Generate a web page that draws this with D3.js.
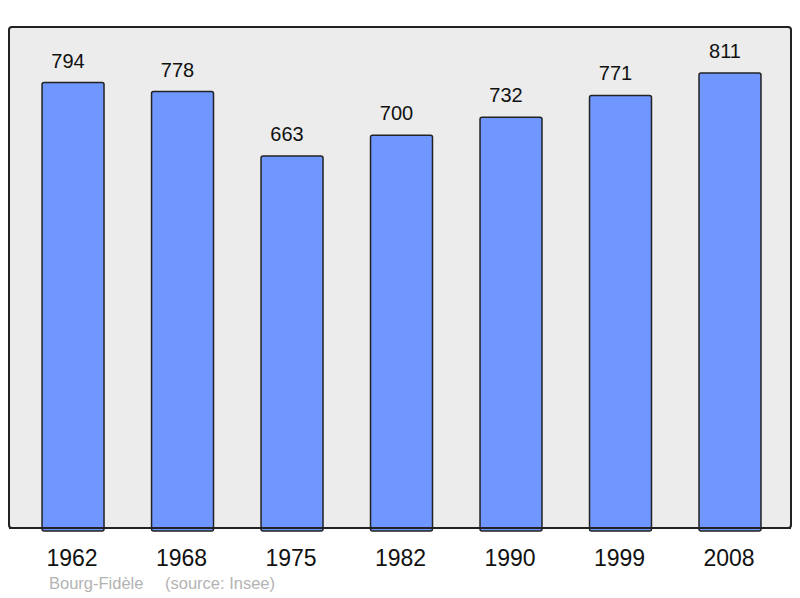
<!DOCTYPE html>
<meta charset="utf-8">
<style>
body { margin: 0; background: #fff; }
text { font-family: "Liberation Sans", Arial, sans-serif; }
</style>
<svg width="800" height="598"></svg>
<script src="https://d3js.org/d3.v7.min.js"></script>
<script>

var years = ["1962", "1968", "1975", "1982", "1990", "1999", "2008"];
var population = [794, 778, 663, 700, 732, 771, 811];
var commune = "Bourg-Fidèle";
var source = "(source: Insee)";

var svg = d3.select("svg"),
    frame = {left: 9, top: 27, right: 791, bottom: 528};

svg.append("rect")
    .attr("x", frame.left)
    .attr("y", frame.top)
    .attr("width", frame.right - frame.left)
    .attr("height", frame.bottom - frame.top)
    .attr("rx", 3)
    .attr("fill", "#ececec")
    .attr("stroke", "#222")
    .attr("stroke-width", 2);

var x = d3.scaleBand()
    .domain(years)
    .range([frame.left, frame.right])
    .paddingInner(0.434)
    .paddingOuter(0.288)
    .align(0.524);

var y = d3.scaleLinear()
    .domain([0, 893])
    .range([frame.bottom, frame.top]);

var data = years.map(function(d, i) { return {year: d, value: population[i]}; });

svg.selectAll(".bar")
    .data(data)
  .enter().append("rect")
    .attr("class", "bar")
    .attr("x", function(d) { return x(d.year); })
    .attr("y", function(d) { return y(d.value); })
    .attr("width", x.bandwidth())
    .attr("height", function(d) { return frame.bottom - y(d.value) + 3; })
    .attr("rx", 2)
    .attr("fill", "#7097ff")
    .attr("stroke", "#222")
    .attr("stroke-width", 1.5);

// redraw the frame bottom edge over the bar feet
svg.append("line")
    .attr("x1", frame.left).attr("x2", frame.right)
    .attr("y1", frame.bottom).attr("y2", frame.bottom)
    .attr("stroke", "#222").attr("stroke-width", 2);

// value labels sit a little left of the bar centre in the original
svg.selectAll(".value")
    .data(data)
  .enter().append("text")
    .attr("class", "value")
    .attr("x", function(d) { return x(d.year) + x.bandwidth() / 2 - 5; })
    .attr("y", function(d) { return y(d.value) - 15; })
    .attr("text-anchor", "middle")
    .attr("font-size", 20)
    .attr("fill", "#111")
    .text(function(d) { return d.value; });

svg.selectAll(".year")
    .data(years)
  .enter().append("text")
    .attr("class", "year")
    .attr("x", function(d) { return x(d) + x.bandwidth() / 2 - 1; })
    .attr("y", 566)
    .attr("text-anchor", "middle")
    .attr("font-size", 23)
    .attr("fill", "#111")
    .text(function(d) { return d; });

svg.append("text")
    .attr("x", 49)
    .attr("y", 589)
    .attr("font-size", 16.5)
    .attr("fill", "#b3b3b3")
    .text(commune);

svg.append("text")
    .attr("x", 165)
    .attr("y", 589)
    .attr("font-size", 16.5)
    .attr("fill", "#b3b3b3")
    .text(source);

</script>
